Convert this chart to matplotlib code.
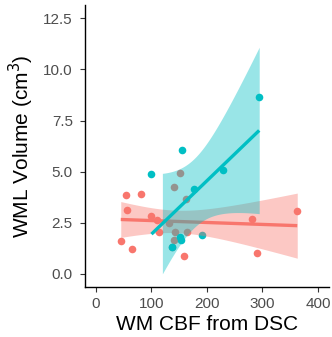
import numpy as np
import matplotlib.pyplot as plt

plt.rcParams['font.family'] = ['Liberation Sans', 'DejaVu Sans']

# group 1 (red)
red_x = [54.7, 82.3, 56.5, 99.7, 111, 113, 45, 65, 158, 282, 289.5, 362.8,
         152, 141.7, 162.8, 132.7, 143, 165, 141, 137]
red_y = [3.84, 3.92, 3.11, 2.84, 2.63, 2.07, 1.60, 1.24, 0.88, 2.71, 1.05, 3.06,
         4.95, 4.23, 3.66, 2.50, 2.07, 2.05, 1.65, 1.32]
# group 2 (cyan)
cyan_x = [100.3, 155.6, 230, 176, 191, 152, 154, 137, 294.3]
cyan_y = [4.90, 6.05, 5.10, 4.15, 1.89, 1.82, 1.65, 1.30, 8.63]

xticks = [0, 100, 200, 300, 400]
yticks = [0.0, 2.5, 5.0, 7.5, 10.0, 12.5]

RED = '#F8766D'
CYAN = '#00BFC4'
# 97.5% t quantiles by degrees of freedom
TQ = {18: 2.1009, 7: 2.3646}


def lm_band(x, y, n=80):
    x = np.asarray(x, float)
    y = np.asarray(y, float)
    b, a = np.polyfit(x, y, 1)
    xs = np.linspace(x.min(), x.max(), n)
    fit = a + b * xs
    resid = y - (a + b * x)
    df = len(x) - 2
    s = np.sqrt(np.sum(resid ** 2) / df)
    se = s * np.sqrt(1 / len(x) + (xs - x.mean()) ** 2 / np.sum((x - x.mean()) ** 2))
    t = TQ[df]
    return xs, fit, fit - t * se, fit + t * se


fig = plt.figure(figsize=(3.32, 3.37), dpi=100)
ax = fig.add_axes([0.255, 0.149, 0.736, 0.835])

ax.scatter(red_x, red_y, s=30, color=RED, linewidths=0, zorder=2)
ax.scatter(cyan_x, cyan_y, s=30, color=CYAN, linewidths=0, zorder=2)

ylo, yhi = 0, 12.5
z = 3
for gx, gy, col in [(red_x, red_y, RED), (cyan_x, cyan_y, CYAN)]:
    xs, fit, lo, hi = lm_band(gx, gy)
    ok = (lo >= ylo) & (hi <= yhi)
    ax.fill_between(xs, lo, hi, where=ok, color=col, alpha=0.4, linewidth=0, zorder=z)
    ax.plot(xs, fit, color=col, lw=2.4, zorder=z + 1, solid_capstyle='butt')
    z += 2

ax.set_xlim(-20, 420)
ax.set_ylim(-0.625, 13.125)
ax.set_xticks(xticks)
ax.set_yticks(yticks)
ax.set_yticklabels([f'{v:.1f}' for v in yticks])

for sp in ['top', 'right']:
    ax.spines[sp].set_visible(False)
for sp in ['left', 'bottom']:
    ax.spines[sp].set_linewidth(1.0)
    ax.spines[sp].set_color('black')
ax.tick_params(length=3.5, width=0.8, color='#333333', labelcolor='#4D4D4D',
               labelsize=11)
ax.tick_params(axis='y', pad=5)
ax.tick_params(axis='x', pad=4)

ax.set_xlabel('WM CBF from DSC', fontsize=15, labelpad=3)
ax.set_ylabel('WML Volume (cm$^3$)', fontsize=15, labelpad=5)

fig.savefig('out.png', dpi=100)
